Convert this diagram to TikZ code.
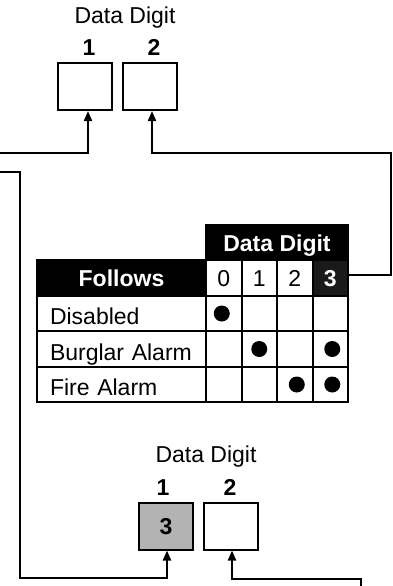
\documentclass[tikz,border=0pt]{standalone}
\usepackage{fontspec}
\setmainfont{Liberation Sans}
\usetikzlibrary{arrows.meta, positioning, calc}
\definecolor{cellgray}{RGB}{179,179,179}
\definecolor{celldark}{RGB}{26,26,26}

\begin{document}
\begin{tikzpicture}[
    x=1pt, y=-1pt,
    font=\fontsize{23pt}{27pt}\selectfont,
    digbox/.style={rectangle, draw, line width=2pt, fill=white,
                   minimum width=54pt, minimum height=47pt, inner sep=0pt,
                   text height=16.5pt, text depth=0pt, font=\fontsize{23pt}{27pt}\selectfont\bfseries},
    diglbl/.style={inner sep=0pt, text depth=0pt, font=\fontsize{23pt}{27pt}\selectfont\bfseries},
    ttl/.style={inner sep=0pt, anchor=base, font=\fontsize{23pt}{27pt}\selectfont},
    hdr/.style={rectangle, draw, fill=black, text=white, line width=2pt, inner sep=0pt,
                text height=17pt, text depth=0pt, font=\fontsize{23pt}{27pt}\selectfont\bfseries},
    dcell/.style={rectangle, draw, fill=white, line width=2pt, inner sep=0pt,
                  minimum width=35.5pt, minimum height=36pt, text height=17pt, text depth=0pt},
    rowlbl/.style={rectangle, draw, line width=2pt, inner xsep=13pt, inner ysep=0pt,
                   text width=143pt, align=left, text height=22pt, text depth=0pt},
    gcell/.style={rectangle, draw, line width=2pt, inner sep=0pt, minimum width=35.5pt},
    arr/.style={-{Triangle[width=8pt, length=10pt]}, line width=2pt}
]
\useasboundingbox (0,0) rectangle (393,586);

% Top: data digits before
\node[digbox] (tA) at (85,86.5) {};
\node[digbox] (tB) at (150,86.5) {};
\node[diglbl, above=6pt of tA, xshift=4pt] (tA1) {1};
\node[diglbl, above=6pt of tB, xshift=4pt] (tB2) {2};
\node[ttl] (tttl) at ($(tA.north)!0.5!(tB.north)+(7.5,-38)$) {Data Digit};

% Table
\node[hdr, minimum width=142pt, minimum height=35pt, anchor=north west] (ddhdr) at (205,224) {Data Digit};
\node[hdr, minimum width=169pt, minimum height=36pt, anchor=north west] (follows) at (36,259) {Follows};
\foreach \d/\x in {0/205,1/240.5,2/276}
  \node[dcell, anchor=north west] (d\d) at (\x,259) {\d};
\node[dcell, fill=celldark, text=white, font=\fontsize{23pt}{27pt}\selectfont\bfseries,
      anchor=north west] (d3) at (311.5,259) {3};

\foreach \t/\y/\h [count=\i] in {Disabled/295/35, Burglar Alarm/330/36, Fire Alarm/366/35} {
  \node[rowlbl, minimum height=\h pt, anchor=north west] (r\i) at (36,\y) {\t};
  \foreach \c/\x in {0/205,1/240.5,2/276,3/311.5}
    \node[gcell, minimum height=\h pt, anchor=north west] (c\i\c) at (\x,\y) {};
}
\foreach \cc/\dx in {c10/-2, c21/0, c23/2, c32/2, c33/2}
  \fill ([xshift=\dx pt]\cc.center) circle[radius=8pt];

% Bottom: data digits after
\node[digbox, fill=cellgray] (bA) at (166,526) {3};
\node[digbox] (bB) at (231,526) {};
\node[diglbl, above=6pt of bA, xshift=-3pt] (bA1) {1};
\node[diglbl, above=6pt of bB, xshift=-1pt] (bB2) {2};
\node[ttl] (bttl) at ($(bA.north)!0.5!(bB.north)+(7.5,-39)$) {Data Digit};

% Connectors
\coordinate (inA) at (0,153);
\coordinate (inB) at (0,172);
\coordinate (inC) at (361,586);

\draw[arr] (inA) -| ([xshift=3pt]tA.south);
\draw[arr] ([yshift=3pt]d3.east) -- ++(42,0) |- ($(tB.south)+(2,42)$) -- ([xshift=2pt]tB.south);
\draw[arr] (inB) -- ++(20,0) |- ($(bA.south)+(1,27)$) -- ([xshift=1pt]bA.south);
\draw[arr] (inC) |- ($(bB.south)+(1,28)$) -- ([xshift=1pt]bB.south);

\end{tikzpicture}
\end{document}
